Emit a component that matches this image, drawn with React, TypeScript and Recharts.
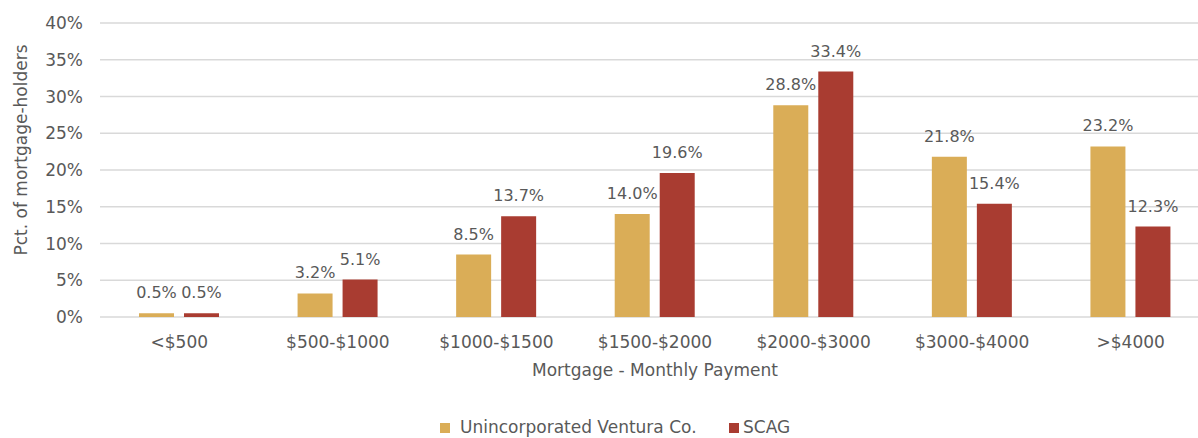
import { BarChart, Bar, XAxis, YAxis, CartesianGrid, LabelList, Label } from "recharts";

const CATEGORIES = ["<$500", "$500-$1000", "$1000-$1500", "$1500-$2000", "$2000-$3000", "$3000-$4000", ">$4000"];
const VENTURA = [0.5, 3.2, 8.5, 14.0, 28.8, 21.8, 23.2];
const SCAG = [0.5, 5.1, 13.7, 19.6, 33.4, 15.4, 12.3];
const Y_TICKS = [0, 5, 10, 15, 20, 25, 30, 35, 40];

const GOLD = "#DAAD57";
const RED = "#A93C31";
const TEXT = "#595959";
const FONT = "'DejaVu Sans', sans-serif";

const data = CATEGORIES.map((name, i) => ({ name, ventura: VENTURA[i], scag: SCAG[i] }));

const fmt = (v: number) => `${v.toFixed(1)}%`;

function LegendBox() {
  return (
    <div style={{ position: "absolute", left: 0, top: 415, width: 1198, height: 20, fontFamily: FONT, fontSize: 17, color: TEXT }}>
      <div style={{ position: "absolute", left: 440, top: 8, width: 10, height: 10, background: GOLD }} />
      <span style={{ position: "absolute", left: 460, top: 2, whiteSpace: "nowrap" }}>Unincorporated Ventura Co.</span>
      <div style={{ position: "absolute", left: 729, top: 8, width: 10, height: 10, background: RED }} />
      <span style={{ position: "absolute", left: 743, top: 2, whiteSpace: "nowrap" }}>SCAG</span>
    </div>
  );
}

export default function App() {
  return (
    <div style={{ width: 1198, height: 438, overflow: "hidden", position: "relative", background: "#fff" }}>
      <style>{`body{margin:0;overflow:hidden}`}</style>
      <BarChart
        width={1230}
        height={438}
        data={data}
        margin={{ top: 23, right: 20, bottom: 61, left: 0 }}
        barSize={35}
        barGap={10}
      >
        <CartesianGrid vertical={false} stroke="#d9d9d9" strokeWidth={1.3} />
        <XAxis
          dataKey="name"
          axisLine={false}
          tickLine={false}
          tickSize={0}
          tickMargin={19}
          height={60}
          interval={0}
          tick={{ fill: TEXT, fontSize: 17, fontFamily: FONT }}
        >
          <Label
            content={({ viewBox }: any) => (
              <text
                x={viewBox.x + viewBox.width / 2}
                y={376}
                textAnchor="middle"
                fill={TEXT}
                fontSize={17}
                fontFamily={FONT}
              >
                Mortgage - Monthly Payment
              </text>
            )}
          />
        </XAxis>
        <YAxis
          width={100}
          domain={[0, 40]}
          ticks={Y_TICKS}
          tickFormatter={(v) => `${v}%`}
          axisLine={false}
          tickLine={false}
          tickSize={0}
          tickMargin={17}
          tick={{ fill: TEXT, fontSize: 17, fontFamily: FONT }}
        >
          <Label
            content={() => (
              <text
                x={27}
                y={150}
                transform="rotate(-90 27 150)"
                textAnchor="middle"
                fill={TEXT}
                fontSize={17}
                fontFamily={FONT}
              >
                Pct. of mortgage-holders
              </text>
            )}
          />
        </YAxis>
        <Bar dataKey="ventura" name="Unincorporated Ventura Co." fill={GOLD} isAnimationActive={false}>
          <LabelList dataKey="ventura" position="top" offset={15} formatter={(v: any) => fmt(Number(v))} fill={TEXT} fontSize={16} fontFamily={FONT} />
        </Bar>
        <Bar dataKey="scag" name="SCAG" fill={RED} isAnimationActive={false}>
          <LabelList dataKey="scag" position="top" offset={15} formatter={(v: any) => fmt(Number(v))} fill={TEXT} fontSize={16} fontFamily={FONT} />
        </Bar>
      </BarChart>
      <LegendBox />
    </div>
  );
}
